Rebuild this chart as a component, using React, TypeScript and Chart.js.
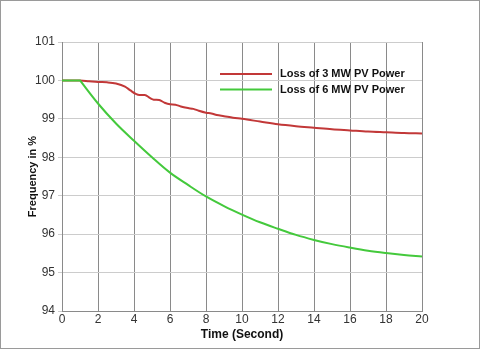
import React, { useEffect, useRef } from "react";
import { Chart, registerables } from "chart.js";

Chart.register(...registerables);

const redTime = [0, 1, 1.5, 2, 2.5, 3, 3.5, 3.8, 4.1, 4.3, 4.6, 4.9, 5.1, 5.4, 5.7, 6.0, 6.3, 6.6, 7.0, 7.3, 7.6, 8.0, 8.3, 8.6, 9.0, 9.5, 10, 11, 12, 13, 14, 15, 16, 17, 18, 19, 20];
const redValues = [100, 100, 99.98, 99.96, 99.95, 99.92, 99.84, 99.74, 99.65, 99.62, 99.62, 99.54, 99.5, 99.49, 99.42, 99.38, 99.37, 99.32, 99.28, 99.26, 99.21, 99.16, 99.14, 99.1, 99.07, 99.03, 99.0, 98.93, 98.86, 98.81, 98.77, 98.73, 98.7, 98.67, 98.65, 98.63, 98.62];

// the point at t = 1 is listed twice so the curve breaks sharply there
const greenTime = [0, 1, 1, 2, 3, 4, 5, 6, 7, 8, 9, 10, 11, 12, 13, 14, 15, 16, 17, 18, 19, 20];
const greenValues = [100, 100, 100, 99.4, 98.88, 98.43, 98.0, 97.6, 97.28, 96.98, 96.73, 96.51, 96.31, 96.14, 95.98, 95.85, 95.74, 95.65, 95.57, 95.51, 95.46, 95.42];

const seriesLabels = ["Loss of 3 MW PV Power", "Loss of 6 MW PV Power"];
const xTitle = "Time (Second)";
const yTitle = "Frequency in %";

const RED = "#c23838";
const GREEN = "#44c93c";
const FONT = "'Liberation Sans', Arial, sans-serif";

const legendPlugin = {
  id: "insideLegend",
  afterDatasetsDraw(chart: any) {
    const ctx = chart.ctx;
    const items = chart.data.datasets;
    ctx.save();
    items.forEach((ds: any, i: number) => {
      const y = 74 + i * 15.5;
      ctx.strokeStyle = ds.borderColor;
      ctx.lineWidth = 2;
      ctx.beginPath();
      ctx.moveTo(220, y);
      ctx.lineTo(272, y);
      ctx.stroke();
      ctx.fillStyle = "#111";
      ctx.font = `bold 11px ${FONT}`;
      ctx.textBaseline = "middle";
      ctx.textAlign = "left";
      ctx.fillText(ds.label, 280, y);
    });
    ctx.restore();
  },
};

export default function App() {
  const ref = useRef<HTMLCanvasElement | null>(null);
  useEffect(() => {
    if (!ref.current) return;
    const chart = new Chart(ref.current, {
      type: "scatter",
      data: {
        datasets: [
          {
            label: seriesLabels[0],
            data: redTime.map((t, i) => ({ x: t, y: redValues[i] })),
            borderColor: RED,
            backgroundColor: RED,
            borderWidth: 2,
            showLine: true,
            pointRadius: 0,
            cubicInterpolationMode: "monotone",
            order: 1,
          },
          {
            label: seriesLabels[1],
            data: greenTime.map((t, i) => ({ x: t, y: greenValues[i] })),
            borderColor: GREEN,
            backgroundColor: GREEN,
            borderWidth: 2,
            showLine: true,
            pointRadius: 0,
            tension: 0.35,
            order: 0,
          },
        ],
      },
      options: {
        responsive: false,
        animation: false,
        layout: { padding: { top: 42, right: 58, bottom: 0, left: 0 } },
        plugins: { legend: { display: false }, tooltip: { enabled: false } },
        scales: {
          x: {
            type: "linear",
            min: 0,
            max: 20,
            ticks: { stepSize: 2, color: "#333", font: { family: FONT, size: 12 }, padding: 1, maxRotation: 0 },
            grid: { color: "#8a8a8a", lineWidth: 1, tickLength: 0 },
            border: { color: "#8a8a8a" },
            title: { display: true, text: xTitle, color: "#111", font: { family: FONT, size: 12, weight: "bold" }, padding: { top: 0, bottom: 7 } },
            afterFit: (s: any) => { s.height = 38; },
          },
          y: {
            type: "linear",
            min: 94,
            max: 101,
            ticks: { stepSize: 1, color: "#333", font: { family: FONT, size: 12 }, padding: 3 },
            grid: { color: "#cccccc", lineWidth: 1, tickLength: 4 },
            border: { color: "#8a8a8a" },
            title: { display: true, text: yTitle, color: "#111", font: { family: FONT, size: 11, weight: "bold" }, padding: { top: 26, bottom: 0 } },
            afterFit: (s: any) => { s.width = 62; },
          },
        },
      },
      plugins: [legendPlugin],
    });
    return () => chart.destroy();
  }, []);
  return (
    <div style={{ position: "fixed", left: 0, top: 0, width: 480, height: 349, background: "#fff" }}>
      <canvas ref={ref} width={480} height={349} style={{ display: "block" }} />
      <div style={{ position: "absolute", left: 0, top: 0, width: 480, height: 349, boxSizing: "border-box", border: "1px solid #9a9a9a", pointerEvents: "none" }} />
    </div>
  );
}
